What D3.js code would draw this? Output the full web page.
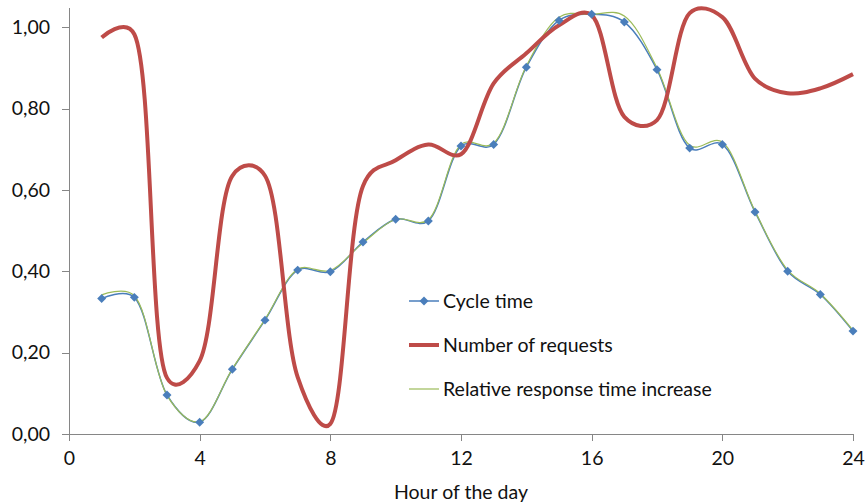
<!DOCTYPE html>
<html>
<head>
  <meta charset="utf-8" />
  <title>Hour of the day</title>
  <script type="text/javascript" src="https://cdn.jsdelivr.net/npm/d3@7"></script>
  <style type="text/css">
  body {
    margin: 0;
    background: #fff;
    font-family: Lato, "Open Sans", sans-serif;
  }

  .axis path, .axis line {
    stroke: #868686;
    stroke-width: 1px;
    shape-rendering: crispedges;
  }

  .axis text, .legend text, .xlabel {
    fill: #111;
    font-family: Lato, "Open Sans", sans-serif;
    font-size: 19.5px;
  }

  .series {
    fill: none;
  }
  </style>
</head>
<body>
  <script type="text/javascript">
    var hours = [1, 2, 3, 4, 5, 6, 7, 8, 9, 10, 11, 12, 13, 14, 15, 16, 17, 18, 19, 20, 21, 22, 23, 24]

    var cycleTime = [0.333, 0.336, 0.096, 0.029, 0.159, 0.280, 0.403, 0.399, 0.472, 0.528, 0.524, 0.708,
                     0.712, 0.902, 1.017, 1.032, 1.013, 0.896, 0.703, 0.712, 0.546, 0.400, 0.343, 0.253]

    var requests = [0.975, 0.983, 0.138, 0.180, 0.635, 0.635, 0.140, 0.025, 0.610, 0.673, 0.712, 0.688,
                    0.862, 0.936, 1.005, 1.030, 0.780, 0.772, 1.035, 1.025, 0.874, 0.838, 0.850, 0.885]

    var relIncrease = [0.342, 0.340, 0.095, 0.030, 0.160, 0.282, 0.405, 0.402, 0.470, 0.528, 0.527, 0.712,
                       0.715, 0.905, 1.025, 1.032, 1.028, 0.900, 0.710, 0.718, 0.548, 0.403, 0.345, 0.255]

    var xTicks = [0, 4, 8, 12, 16, 20, 24]
    var yTicks = [0, 0.2, 0.4, 0.6, 0.8, 1.0]

    var w = 865,
        h = 504,
        mLeft = 69, mRight = 853,
        mTop = 7, mBottom = 434

    var x = d3.scaleLinear().domain([0, 24]).range([mLeft, mRight])
    var y = d3.scaleLinear().domain([0, 1.05]).range([mBottom, mTop])

    var locale = d3.formatLocale({ decimal: ',', thousands: '.', grouping: [3], currency: ['', ''] })
    var fmt = locale.format('.2f')

    var svg = d3.select(document.body)
      .append('svg')
      .attr('width', w)
      .attr('height', h)

    svg.append('g')
      .attr('class', 'axis')
      .attr('transform', 'translate(0,' + mBottom + ')')
      .call(d3.axisBottom(x).tickValues(xTicks).tickSize(7).tickSizeOuter(0).tickPadding(10))

    svg.append('g')
      .attr('class', 'axis')
      .attr('transform', 'translate(' + mLeft + ',0)')
      .call(d3.axisLeft(y).tickValues(yTicks).tickFormat(fmt).tickSize(7).tickSizeOuter(0).tickPadding(12))

    svg.append('text')
      .attr('class', 'xlabel')
      .attr('x', x(12))
      .attr('y', 499)
      .attr('text-anchor', 'middle')
      .text('Hour of the day')

    var series = [
      { name: 'Cycle time', values: cycleTime, color: '#4A7EBB', width: 1.5 },
      { name: 'Relative response time increase', values: relIncrease, color: '#9BBB59', width: 1.2 },
      { name: 'Number of requests', values: requests, color: '#BE4B48', width: 4 }
    ]

    // excel-ish smoothing, between uniform and centripetal
    var line = function(vals) {
      return d3.line()
        .x(function(d, i) { return x(hours[i]) })
        .y(function(d) { return y(d) })
        .curve(d3.curveCatmullRom.alpha(0.3))(vals)
    }

    svg.selectAll('path.series')
      .data(series)
    .enter().append('path')
      .attr('class', 'series')
      .attr('d', function(d) { return line(d.values) })
      .attr('stroke', function(d) { return d.color })
      .attr('stroke-width', function(d) { return d.width })
      .attr('stroke-linejoin', 'round')

    var diamond = d3.symbol().type(d3.symbolSquare).size(40)

    svg.selectAll('path.marker')
      .data(cycleTime)
    .enter().append('path')
      .attr('class', 'marker')
      .attr('d', diamond)
      .attr('fill', '#4A7EBB')
      .attr('transform', function(d, i) { return 'translate(' + x(hours[i]) + ',' + y(d) + ') rotate(45)' })

    // legend
    var legendItems = [
      { name: 'Cycle time', color: '#4A7EBB', width: 1.5, markers: true, y: 301 },
      { name: 'Number of requests', color: '#BE4B48', width: 4, markers: false, y: 345 },
      { name: 'Relative response time increase', color: '#9BBB59', width: 1.2, markers: false, y: 389 }
    ]

    var legend = svg.append('g').attr('class', 'legend')
    var items = legend.selectAll('g')
      .data(legendItems)
    .enter().append('g')
      .attr('transform', function(d) { return 'translate(0,' + d.y + ')' })

    items.append('line')
      .attr('x1', 409).attr('x2', 439)
      .attr('y1', 0).attr('y2', 0)
      .attr('stroke', function(d) { return d.color })
      .attr('stroke-width', function(d) { return d.width })

    items.filter(function(d) { return d.markers })
      .append('path')
      .attr('d', diamond)
      .attr('fill', '#4A7EBB')
      .attr('transform', 'translate(424,0) rotate(45)')

    items.append('text')
      .attr('x', 443)
      .attr('dy', '0.35em')
      .text(function(d) { return d.name })
  </script>
</body>
</html>
